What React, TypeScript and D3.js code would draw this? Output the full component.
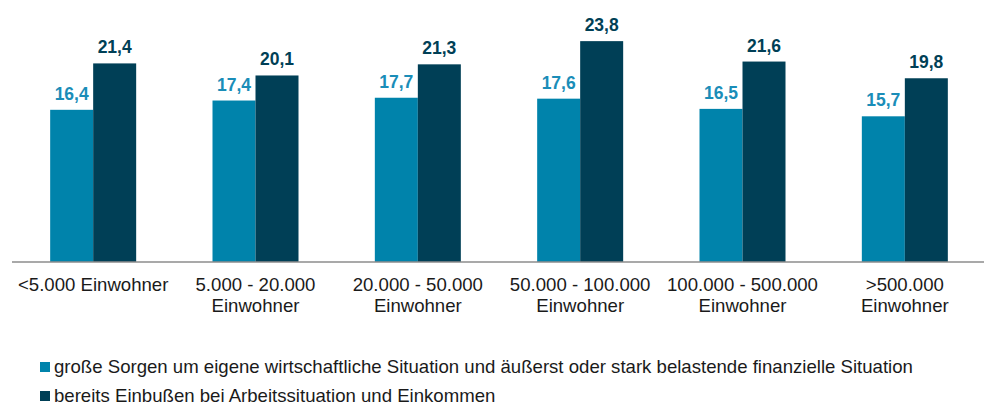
import React from "react";
import * as d3 from "d3";

const categories = [
  ["<5.000 Einwohner"],
  ["5.000 - 20.000", "Einwohner"],
  ["20.000 - 50.000", "Einwohner"],
  ["50.000 - 100.000", "Einwohner"],
  ["100.000 - 500.000", "Einwohner"],
  [">500.000", "Einwohner"],
];
const sorgen = [16.4, 17.4, 17.7, 17.6, 16.5, 15.7];
const einbussen = [21.4, 20.1, 21.3, 23.8, 21.6, 19.8];
const seriesNames = [
  "große Sorgen um eigene wirtschaftliche Situation und äußerst oder stark belastende finanzielle Situation",
  "bereits Einbußen bei Arbeitssituation und Einkommen",
];
const colors = ["#0083AB", "#003F56"];
const labelColors = ["#1A8DB8", "#003F56"];

export default function App() {
  const W = 984, H = 407;
  const left = 12, right = 986, axisY = 262;
  const x = d3.scaleBand<number>().domain(d3.range(categories.length)).range([left, right]);
  const y = d3.scaleLinear().domain([0, 10]).range([axisY, axisY - 92.8]);
  const barW = 43;
  const font = "'Liberation Sans', Arial, sans-serif";
  const series = [sorgen, einbussen];
  return (
    <svg width={W} height={H} style={{ position: "absolute", left: 0, top: 0 }} fontFamily={font}>
      <rect width={W} height={H} fill="#fff" />
      {series.map((vals, s) =>
        vals.map((v, i) => {
          const cx = x(i)! + x.bandwidth() / 2;
          const bx = cx - barW + s * barW;
          return (
            <g key={`${s}-${i}`}>
              <rect x={bx} y={y(v)} width={barW} height={axisY - y(v)} fill={colors[s]} />
              <text
                x={bx + barW / 2}
                y={y(v) - 10}
                textAnchor="middle"
                fontSize={17.5}
                fontWeight="bold"
                fill={labelColors[s]}
              >
                {v.toFixed(1).replace(".", ",")}
              </text>
            </g>
          );
        })
      )}
      <line x1={left} x2={right} y1={axisY} y2={axisY} stroke="#8C8C8C" strokeWidth={1.5} />
      {categories.map((lines, i) => (
        <text key={i} textAnchor="middle" fontSize={18.6} fill="#1a1a1a">
          {lines.map((l, j) => (
            <tspan key={j} x={x(i)! + x.bandwidth() / 2} y={291 + j * 21}>
              {l}
            </tspan>
          ))}
        </text>
      ))}
      {seriesNames.map((n, s) => (
        <g key={n}>
          <rect x={40} y={362 + s * 29} width={10} height={10} fill={colors[s]} />
          <text x={54} y={373 + s * 29} fontSize={18.6} fill="#1a1a1a">
            {n}
          </text>
        </g>
      ))}
    </svg>
  );
}
